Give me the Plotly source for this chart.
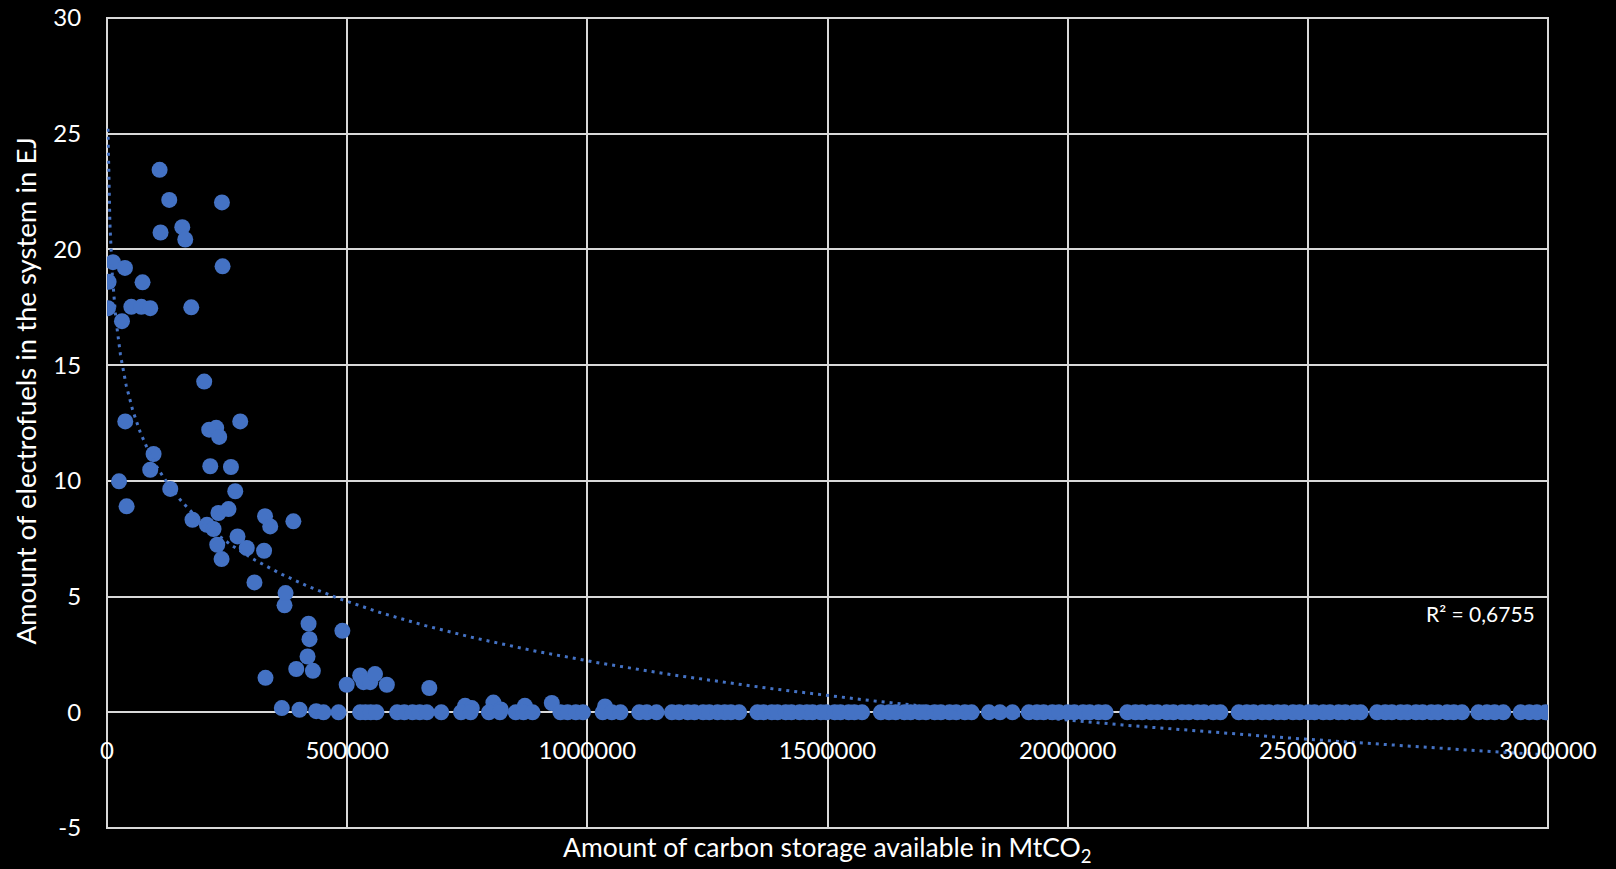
import numpy as np
import plotly.graph_objects as go

# ---- data ----
# points with a non-zero amount of electrofuels: storage in thousand MtCO2, amount in EJ
storage_k = [2, 3.3, 12.5, 25, 31.2, 37.4, 38, 40.8, 50.6, 71.4, 74, 90, 90, 97,
             109.5, 111.5, 129.6, 131.7, 156.7, 162.9, 175.4, 178, 202.4, 208,
             212.8, 215, 221.8, 227.4, 229.5, 232, 233.6, 238.5, 239.3, 240.6,
             253, 258, 267, 271.7, 277.4, 291, 307, 327, 329, 330, 339.8, 364,
             369.6, 371.7, 388, 394, 400.7, 417.5, 419.6, 421.6, 428.6, 435.5,
             450.7, 490, 499, 527, 534, 548, 558, 582.6, 671, 745.5, 759.5,
             804.4, 819.8, 870, 926, 1036.8]
efuel_ej = [17.46, 18.6, 19.45, 9.98, 16.9, 19.2, 12.57, 8.9, 17.52, 17.52, 18.58,
            17.46, 10.48, 11.16, 23.44, 20.73, 22.14, 9.65, 20.96, 20.43, 17.5,
            8.32, 14.29, 8.1, 12.21, 10.63, 7.92, 12.29, 7.24, 8.61, 11.9, 6.62,
            22.03, 19.27, 8.78, 10.6, 9.55, 7.6, 12.57, 7.1, 5.61, 6.98, 8.47,
            1.49, 8.03, 0.18, 4.62, 5.15, 8.25, 1.87, 0.11, 2.41, 3.83, 3.16,
            1.79, 0.05, 0.0, 3.52, 1.19, 1.59, 1.3, 1.3, 1.65, 1.19, 1.05, 0.28,
            0.18, 0.42, 0.12, 0.28, 0.4, 0.25]

# points sitting on 0 EJ: storage in thousand MtCO2
zero_storage_k = [
    482, 527, 538, 549, 561, 604, 619, 636, 651, 666, 696, 737, 757, 795, 818,
    851, 867, 886, 944, 959, 976, 991, 1032, 1051, 1069, 1108, 1124, 1144,
    1176, 1191, 1209, 1223, 1241, 1254, 1271, 1286, 1299, 1316,
    1354, 1367, 1384, 1396, 1413, 1425, 1442, 1457, 1469, 1486, 1498, 1515,
    1527, 1544, 1556, 1572,
    1611, 1628, 1642, 1660, 1673, 1691, 1705, 1723, 1736, 1754, 1768, 1786, 1800,
    1836, 1859, 1885,
    1919, 1936, 1950, 1968, 1982, 2000, 2014, 2032, 2046, 2064, 2079,
    2124, 2141, 2155, 2173, 2187, 2206, 2220, 2238, 2252, 2270, 2284, 2303, 2318,
    2356, 2373, 2387, 2405, 2419, 2437, 2451, 2469, 2483, 2501, 2514, 2532,
    2546, 2564, 2578, 2596, 2610,
    2644, 2661, 2675, 2693, 2707, 2725, 2739, 2757, 2771, 2790, 2804, 2821,
    2855, 2873, 2889, 2907, 2943, 2961, 2977, 2995]

# logarithmic trendline shown in the reference: y = a*ln(x) + b
trend_a = -3.70
trend_b = 53.34
r2_label = "R² = 0,6755"
x_ticks = [0, 500000, 1000000, 1500000, 2000000, 2500000, 3000000]
x_ticktext = ["0", "500000", "1000000", "1500000", "2000000", "2500000", "3000000"]
y_ticks = [-5, 0, 5, 10, 15, 20, 25, 30]
y_ticktext = ["-5", "0", "5", "10", "15", "20", "25", "30"]

# ---- assemble ----
x_all = np.array(storage_k + zero_storage_k, dtype=float) * 1000.0
y_all = np.array(efuel_ej + [0.0] * len(zero_storage_k), dtype=float)

x_fit = np.geomspace(x_all.min(), x_all.max(), 400)
y_fit = trend_a * np.log(x_fit) + trend_b

BLUE = "#4472C4"
GRID = "#d9d9d9"
FONT = "Lato"

fig = go.Figure()
fig.add_trace(go.Scatter(x=x_all, y=y_all, mode="markers",
                         marker=dict(size=16, color=BLUE, line=dict(width=0)),
                         showlegend=False, hoverinfo="x+y"))
fig.add_trace(go.Scatter(x=x_fit, y=y_fit, mode="lines",
                         line=dict(color=BLUE, width=3, dash="3px,5px"),
                         showlegend=False, hoverinfo="skip"))

fig.update_layout(
    width=1616, height=869,
    margin=dict(l=107, r=68, t=18, b=41, autoexpand=False),
    paper_bgcolor="black", plot_bgcolor="black",
    font=dict(family=FONT, color="white", size=24),
    xaxis=dict(range=[0, 3000000], tickvals=x_ticks, ticktext=x_ticktext,
               showgrid=True, gridcolor=GRID, gridwidth=2,
               zeroline=True, zerolinecolor=GRID, zerolinewidth=2,
               anchor="free", position=5 / 35, automargin=False,
               ticks="outside", ticklen=17, tickcolor="rgba(0,0,0,0)",
               tickfont=dict(family=FONT, size=24, color="white"),
               showline=False),
    yaxis=dict(range=[-5, 30], tickvals=y_ticks, ticktext=y_ticktext,
               automargin=False,
               showgrid=True, gridcolor=GRID, gridwidth=2,
               zeroline=True, zerolinecolor=GRID, zerolinewidth=2,
               ticks="outside", ticklen=20, tickcolor="rgba(0,0,0,0)",
               tickfont=dict(family=FONT, size=24, color="white"),
               showline=False),
    shapes=[dict(type="rect", xref="paper", yref="paper", x0=0, x1=1, y0=0, y1=1,
                 line=dict(color=GRID, width=2), layer="below")],
    annotations=[
        dict(text="Amount of carbon storage available in MtCO<sub>2</sub>",
             xref="paper", yref="paper", x=0.5, y=-0.026,
             xanchor="center", yanchor="middle", showarrow=False,
             font=dict(family=FONT, size=26.5, color="white")),
        dict(text="Amount of electrofuels in the system in EJ",
             xref="paper", yref="paper", x=-0.0562, y=0.54, textangle=-90,
             xanchor="center", yanchor="middle", showarrow=False,
             font=dict(family=FONT, size=27.5, color="white")),
        dict(text=r2_label, xref="x", yref="y", x=2860000, y=4.26,
             xanchor="center", yanchor="middle", showarrow=False,
             font=dict(family=FONT, size=21, color="white")),
    ],
)

fig.write_html("out.html")
